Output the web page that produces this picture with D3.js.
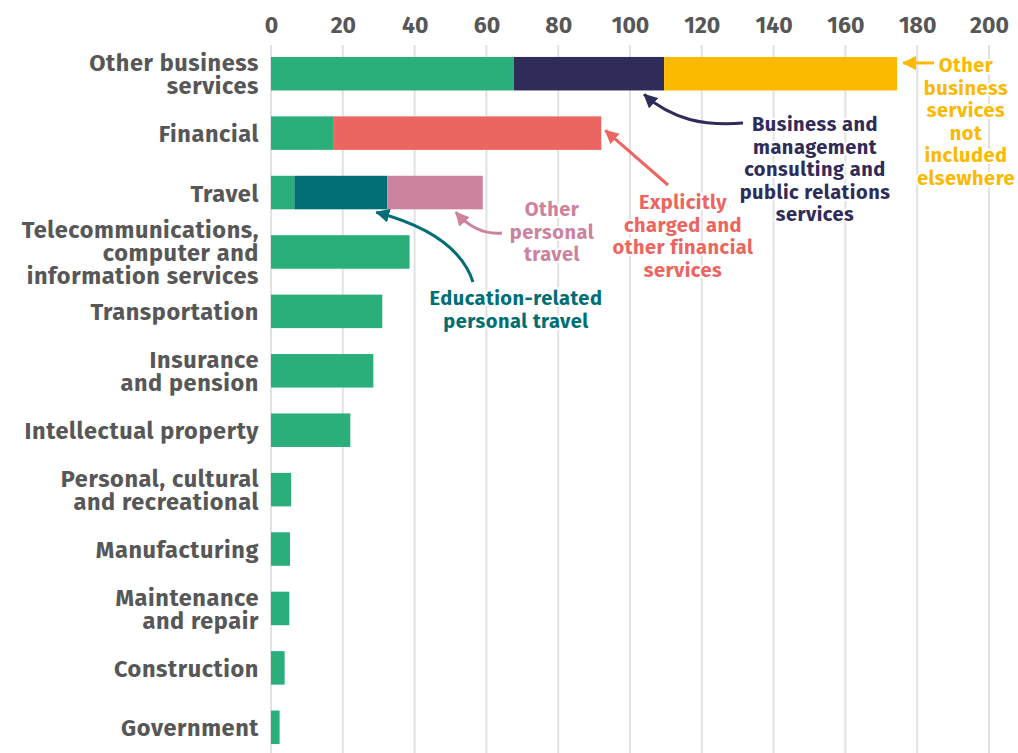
<!DOCTYPE html>
<html>
<head>
<meta charset="utf-8">
<script src="https://cdn.jsdelivr.net/npm/d3@7"></script>
<style>
    body { margin: 0; background: #fff; }
    svg text { font-family: "Fira Sans", Lato, "Open Sans", sans-serif; font-weight: 700; }
</style>
</head>
<body>
<div id="chart-container"></div>
<script>
//categorieen (een label kan meerdere regels hebben)
const categories = [
    'Other business services', 'Financial', 'Travel',
    'Telecommunications, computer and information services', 'Transportation',
    'Insurance and pension', 'Intellectual property', 'Personal, cultural and recreational',
    'Manufacturing', 'Maintenance and repair', 'Construction', 'Government'
]
const categoryLines = [
    ['Other business', 'services'], ['Financial'], ['Travel'],
    ['Telecommunications,', 'computer and', 'information services'], ['Transportation'],
    ['Insurance', 'and pension'], ['Intellectual property'], ['Personal, cultural', 'and recreational'],
    ['Manufacturing'], ['Maintenance', 'and repair'], ['Construction'], ['Government']
]

//series waarden per categorie
const baseValues = [67.6, 17.5, 6.5, 38.6, 31.0, 28.5, 22.1, 5.6, 5.3, 5.1, 3.8, 2.4]
const consultingValues = [41.9, 0, 0, 0, 0, 0, 0, 0, 0, 0, 0, 0]
const otherNieValues = [64.9, 0, 0, 0, 0, 0, 0, 0, 0, 0, 0, 0]
const financialValues = [0, 74.5, 0, 0, 0, 0, 0, 0, 0, 0, 0, 0]
const educationValues = [0, 0, 25.9, 0, 0, 0, 0, 0, 0, 0, 0, 0]
const personalTravelValues = [0, 0, 26.6, 0, 0, 0, 0, 0, 0, 0, 0, 0]

const tickValues = [0, 20, 40, 60, 80, 100, 120, 140, 160, 180, 200]

const seriesKeys = ['base', 'consulting', 'otherNie', 'financial', 'education', 'personalTravel']
const colors = {
    base: '#2aae7a',
    consulting: '#302c5a',
    otherNie: '#fbb900',
    financial: '#ec6561',
    education: '#006e74',
    personalTravel: '#cd829e'
}

//settings
const chartContainer = d3.select('#chart-container')
const width = 1018
const height = 753
const textColor = '#575757'

//tabel voor d3.stack
const table = categories.map((c, i) => ({
    category: c,
    base: baseValues[i],
    consulting: consultingValues[i],
    otherNie: otherNieValues[i],
    financial: financialValues[i],
    education: educationValues[i],
    personalTravel: personalTravelValues[i]
}))

const xScale = d3.scaleLinear().domain([0, 200]).range([271, 989])
const yScale = d3.scaleBand()
    .domain(categories)
    .range([44, 757])
    .paddingInner(0.436)
    .paddingOuter(0.218)

const svg = chartContainer.append('svg')
    .attr('width', width)
    .attr('height', height)

//pijlpunten
const defs = svg.append('defs')
Object.entries(colors).forEach(([key, col]) => {
    defs.append('marker')
        .attr('id', 'arrow-' + key)
        .attr('viewBox', '0 0 14 14')
        .attr('refX', 13)
        .attr('refY', 7)
        .attr('markerWidth', 14)
        .attr('markerHeight', 14)
        .attr('markerUnits', 'userSpaceOnUse')
        .attr('orient', 'auto')
        .append('path')
        .attr('d', 'M0,0 L14,7 L0,14 Z')
        .attr('fill', col)
})

//x-as bovenaan
const xAxis = svg.append('g')
    .attr('class', 'axis-x')
    .call(d3.axisTop(xScale).tickValues(tickValues).tickSize(0).tickPadding(0))
xAxis.select('.domain').remove()
xAxis.selectAll('text')
    .attr('y', 33)
    .attr('dy', null)
    .attr('fill', textColor)
    .style('font-size', '23px')

//gridlijnen
svg.append('g')
    .selectAll('line')
    .data(tickValues)
    .join('line')
    .attr('x1', d => xScale(d))
    .attr('x2', d => xScale(d))
    .attr('y1', 45)
    .attr('y2', height)
    .attr('stroke', '#e2e2e2')
    .attr('stroke-width', 2)

//gestapelde bars
const stacked = d3.stack().keys(seriesKeys)(table)
svg.append('g')
    .selectAll('g')
    .data(stacked)
    .join('g')
    .attr('fill', d => colors[d.key])
    .selectAll('rect')
    .data(d => d.filter(p => p[1] > p[0]))
    .join('rect')
    .attr('x', d => xScale(d[0]))
    .attr('y', d => yScale(d.data.category))
    .attr('width', d => xScale(d[1]) - xScale(d[0]))
    .attr('height', yScale.bandwidth())

//labels van de categorieen
const labels = svg.append('g')
    .selectAll('text')
    .data(categories)
    .join('text')
    .attr('text-anchor', 'end')
    .attr('fill', textColor)
    .attr('letter-spacing', 0.6)
    .style('font-size', '23.5px')
labels.each(function (d, i) {
    const lines = categoryLines[i]
    const mid = yScale(d) + yScale.bandwidth() / 2
    const first = mid + 9 - (lines.length - 1) * 11.5
    d3.select(this).selectAll('tspan')
        .data(lines)
        .join('tspan')
        .attr('x', 259)
        .attr('y', (l, j) => first + j * 23)
        .text(l => l)
})

//annotaties
const barEnd = (key, cat) => {
    const s = stacked.find(s => s.key === key)
    return xScale(s[categories.indexOf(cat)][1])
}
const barTop = cat => yScale(cat)
const barBottom = cat => yScale(cat) + yScale.bandwidth()

const annotations = [
    {
        key: 'otherNie', x: 966, y: 72,
        lines: ['Other', 'business', 'services', 'not', 'included', 'elsewhere'],
        path: () => {
            const tx = barEnd('otherNie', categories[0]) + 6, ty = barTop(categories[0]) + 6
            return `M934,${ty} L${tx},${ty}`
        }
    },
    {
        key: 'consulting', x: 815, y: 131,
        lines: ['Business and', 'management', 'consulting and', 'public relations', 'services'],
        path: () => {
            const tx = barEnd('consulting', categories[0]) - 20, ty = barBottom(categories[0]) + 4
            return `M743,123 C705,126 672,120 ${tx},${ty}`
        }
    },
    {
        key: 'financial', x: 683, y: 209,
        lines: ['Explicitly', 'charged and', 'other financial', 'services'],
        path: () => {
            const tx = barEnd('financial', categories[1]) + 4, ty = barTop(categories[1]) + 14
            return `M668,185 L${tx},${ty}`
        }
    },
    {
        key: 'personalTravel', x: 552, y: 216,
        lines: ['Other', 'personal', 'travel'],
        path: () => {
            const tx = barEnd('personalTravel', categories[2]) - 27, ty = barBottom(categories[2]) + 3
            return `M502,233 C482,235 468,226 ${tx},${ty}`
        }
    },
    {
        key: 'education', x: 516, y: 305,
        lines: ['Education-related', 'personal travel'],
        path: () => {
            const tx = barEnd('education', categories[2]) - 11, ty = barBottom(categories[2]) + 3
            return `M473,282 C462,248 428,226 ${tx},${ty}`
        }
    }
]

annotations.forEach(a => {
    svg.append('path')
        .attr('d', a.path())
        .attr('fill', 'none')
        .attr('stroke', colors[a.key])
        .attr('stroke-width', 3)
        .attr('marker-end', `url(#arrow-${a.key})`)

    const t = svg.append('text')
        .attr('text-anchor', 'middle')
        .attr('fill', colors[a.key])
        .attr('stroke', '#fff')
        .attr('stroke-width', 4)
        .attr('paint-order', 'stroke')
        .attr('letter-spacing', 0.5)
        .style('font-size', '20px')
    t.selectAll('tspan')
        .data(a.lines)
        .join('tspan')
        .attr('x', a.x)
        .attr('y', (l, j) => a.y + j * 22.5)
        .text(l => l)
})
</script>
</body>
</html>
